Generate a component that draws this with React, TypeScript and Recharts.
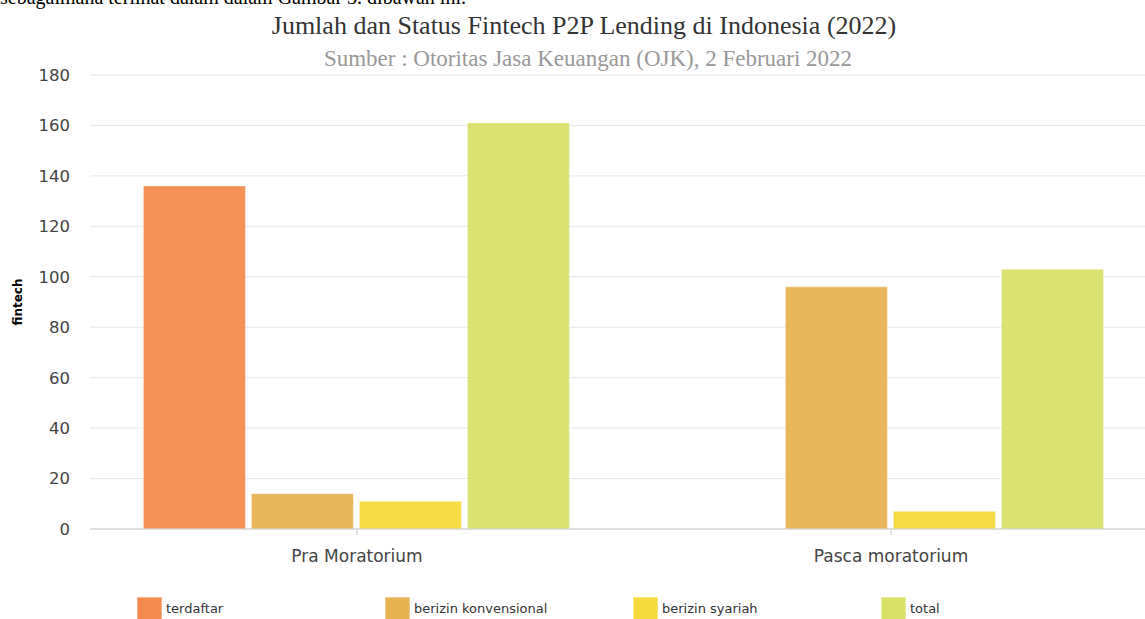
import React from "react";
import { BarChart, Bar, XAxis, YAxis, CartesianGrid } from "recharts";

const categories = ["Pra Moratorium", "Pasca moratorium"];
const terdaftar: (number | null)[] = [136, null];
const berizinKonvensional = [14, 96];
const berizinSyariah = [11, 7];
const total = [161, 103];
const yTicks = [0, 20, 40, 60, 80, 100, 120, 140, 160, 180];

const series = [
  { key: "terdaftar", name: "terdaftar", color: "#F48C4F", values: terdaftar },
  { key: "konv", name: "berizin konvensional", color: "#E7B352", values: berizinKonvensional },
  { key: "syariah", name: "berizin syariah", color: "#F4DA3B", values: berizinSyariah },
  { key: "total", name: "total", color: "#D8E269", values: total },
];

const data = categories.map((c, i) => {
  const row: any = { name: c };
  series.forEach((s) => (row[s.key] = s.values[i]));
  return row;
});

export default function App() {
  return (
    <div style={{ position: "absolute", left: 0, top: 0, width: 1145, height: 619, overflow: "hidden", background: "#fff" }}>
      <div style={{ position: "absolute", left: 0, top: -14, fontFamily: "'Liberation Serif', serif", fontSize: 20, color: "#000", whiteSpace: "nowrap" }}>
        sebagaimana terlihat dalam dalam Gambar 3. dibawah ini.
      </div>
      <div style={{ position: "absolute", left: 0, width: 1168, top: 9, textAlign: "center", fontFamily: "'Liberation Serif', serif", fontSize: 26, color: "#333", whiteSpace: "nowrap", lineHeight: "34px" }}>
        Jumlah dan Status Fintech P2P Lending di Indonesia (2022)
      </div>
      <div style={{ position: "absolute", left: 0, width: 1176, top: 44, textAlign: "center", fontFamily: "'Liberation Serif', serif", fontSize: 23, color: "#999", whiteSpace: "nowrap", lineHeight: "30px" }}>
        Sumber : Otoritas Jasa Keuangan (OJK), 2 Februari 2022
      </div>
      <div style={{ position: "absolute", left: 0, top: 0 }}>
        <BarChart
          width={1160}
          height={619}
          data={data}
          margin={{ top: 75, right: 2, bottom: 40, left: 0 }}
          barCategoryGap="10%"
          barGap={6}
        >
          <CartesianGrid vertical={false} stroke="#e6e6e6" />
          <XAxis
            dataKey="name"
            height={50}
            axisLine={{ stroke: "#ccc" }}
            tickLine={{ stroke: "#ccc" }}
            tickSize={6}
            tick={{ fill: "#444", fontSize: 17, fontFamily: "'DejaVu Sans', sans-serif", dy: 13 }}
          />
          <YAxis
            width={90}
            domain={[0, 180]}
            ticks={yTicks}
            axisLine={false}
            tickLine={false}
            tickMargin={14}
            tick={{ fill: "#444", fontSize: 16.5, fontFamily: "'DejaVu Sans', sans-serif" }}
            label={{
              value: "fintech",
              angle: -90,
              position: "insideLeft",
              offset: 18,
              style: { fontSize: 12, fontWeight: "bold", fill: "#000", fontFamily: "'DejaVu Sans', sans-serif", textAnchor: "middle" },
            }}
          />
          {series.map((s) => (
            <Bar
              key={s.key}
              dataKey={s.key}
              name={s.name}
              fill={s.color}
              fillOpacity={0.95}
              stroke="rgba(255,255,255,0.35)"
              strokeWidth={1}
              isAnimationActive={false}
            />
          ))}
        </BarChart>
      </div>
      {series.map((s, i) => (
        <div key={s.key} style={{ position: "absolute", left: 137 + i * 248, top: 597, display: "flex", alignItems: "flex-start" }}>
          <div style={{ width: 25, height: 24, background: s.color, boxSizing: "border-box", border: "1px solid rgba(255,255,255,0.35)" }} />
          <span style={{ marginLeft: 4, marginTop: 4, fontFamily: "'DejaVu Sans', sans-serif", fontSize: 13, color: "#333", whiteSpace: "nowrap" }}>{s.name}</span>
        </div>
      ))}
    </div>
  );
}
